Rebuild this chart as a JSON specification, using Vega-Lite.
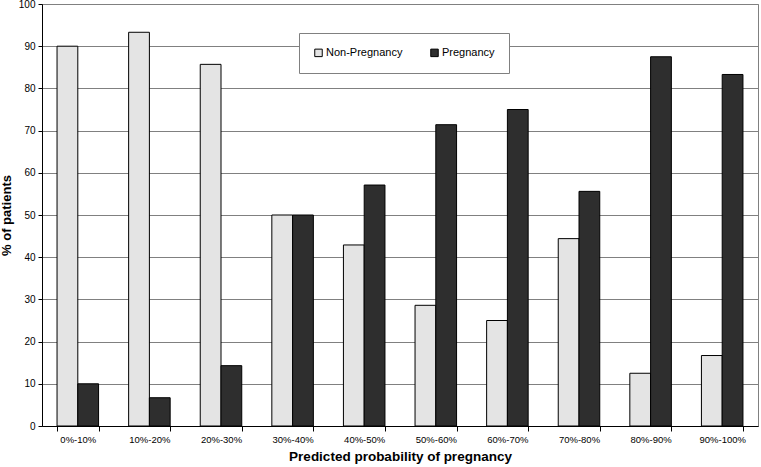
{
  "$schema": "https://vega.github.io/schema/vega-lite/v6.json",
  "width": 716,
  "height": 422,
  "autosize": {"type": "none"},
  "padding": {"left": 42, "top": 4, "right": 3, "bottom": 41},
  "background": "white",
  "config": {
    "font": "Liberation Sans",
    "view": {"stroke": "#808080", "strokeWidth": 1}
  },
  "data": {
    "values": [
      {"range": "0%-10%", "group": "Non-Pregnancy", "pct": 90.0},
      {"range": "0%-10%", "group": "Pregnancy", "pct": 10.0},
      {"range": "10%-20%", "group": "Non-Pregnancy", "pct": 93.3},
      {"range": "10%-20%", "group": "Pregnancy", "pct": 6.7},
      {"range": "20%-30%", "group": "Non-Pregnancy", "pct": 85.7},
      {"range": "20%-30%", "group": "Pregnancy", "pct": 14.3},
      {"range": "30%-40%", "group": "Non-Pregnancy", "pct": 50.0},
      {"range": "30%-40%", "group": "Pregnancy", "pct": 50.0},
      {"range": "40%-50%", "group": "Non-Pregnancy", "pct": 42.9},
      {"range": "40%-50%", "group": "Pregnancy", "pct": 57.1},
      {"range": "50%-60%", "group": "Non-Pregnancy", "pct": 28.6},
      {"range": "50%-60%", "group": "Pregnancy", "pct": 71.4},
      {"range": "60%-70%", "group": "Non-Pregnancy", "pct": 25.0},
      {"range": "60%-70%", "group": "Pregnancy", "pct": 75.0},
      {"range": "70%-80%", "group": "Non-Pregnancy", "pct": 44.4},
      {"range": "70%-80%", "group": "Pregnancy", "pct": 55.6},
      {"range": "80%-90%", "group": "Non-Pregnancy", "pct": 12.5},
      {"range": "80%-90%", "group": "Pregnancy", "pct": 87.5},
      {"range": "90%-100%", "group": "Non-Pregnancy", "pct": 16.7},
      {"range": "90%-100%", "group": "Pregnancy", "pct": 83.3}
    ]
  },
  "mark": {"type": "bar", "stroke": "black", "strokeWidth": 1},
  "encoding": {
    "x": {
      "field": "range",
      "type": "nominal",
      "sort": ["0%-10%", "10%-20%", "20%-30%", "30%-40%", "40%-50%", "50%-60%", "60%-70%", "70%-80%", "80%-90%", "90%-100%"],
      "scale": {"paddingInner": 0.42, "paddingOuter": 0.21},
      "title": "Predicted probability of pregnancy",
      "axis": {
        "labelAngle": 0,
        "labelFontSize": 9.5,
        "labelColor": "black",
        "labelPadding": 3,
        "tickBand": "extent",
        "tickSize": 5,
        "tickColor": "black",
        "domainColor": "black",
        "titleFontSize": 13.5,
        "titleFontWeight": "bold",
        "titleColor": "black",
        "titlePadding": 6
      }
    },
    "xOffset": {"field": "group", "sort": ["Non-Pregnancy", "Pregnancy"]},
    "y": {
      "field": "pct",
      "type": "quantitative",
      "scale": {"domain": [0, 100], "nice": false},
      "title": "% of patients",
      "axis": {
        "values": [0, 10, 20, 30, 40, 50, 60, 70, 80, 90, 100],
        "grid": true,
        "gridColor": "#808080",
        "gridWidth": 1,
        "domainColor": "black",
        "tickColor": "black",
        "tickSize": 4,
        "labelFontSize": 10,
        "labelColor": "black",
        "labelPadding": 3,
        "titleFontSize": 13,
        "titleFontWeight": "bold",
        "titleColor": "black",
        "titlePadding": 5
      }
    },
    "fill": {
      "field": "group",
      "type": "nominal",
      "scale": {"domain": ["Non-Pregnancy", "Pregnancy"], "range": ["#e4e4e4", "#2e2e2e"]},
      "legend": {
        "title": null,
        "orient": "none",
        "legendX": 257,
        "legendY": 29,
        "direction": "horizontal",
        "symbolType": "square",
        "symbolSize": 56,
        "symbolStrokeColor": "black",
        "symbolStrokeWidth": 1,
        "labelFontSize": 11,
        "labelColor": "black",
        "labelOffset": 2,
        "columnPadding": 25,
        "padding": 14,
        "strokeColor": "#808080",
        "fillColor": "white"
      }
    }
  }
}
